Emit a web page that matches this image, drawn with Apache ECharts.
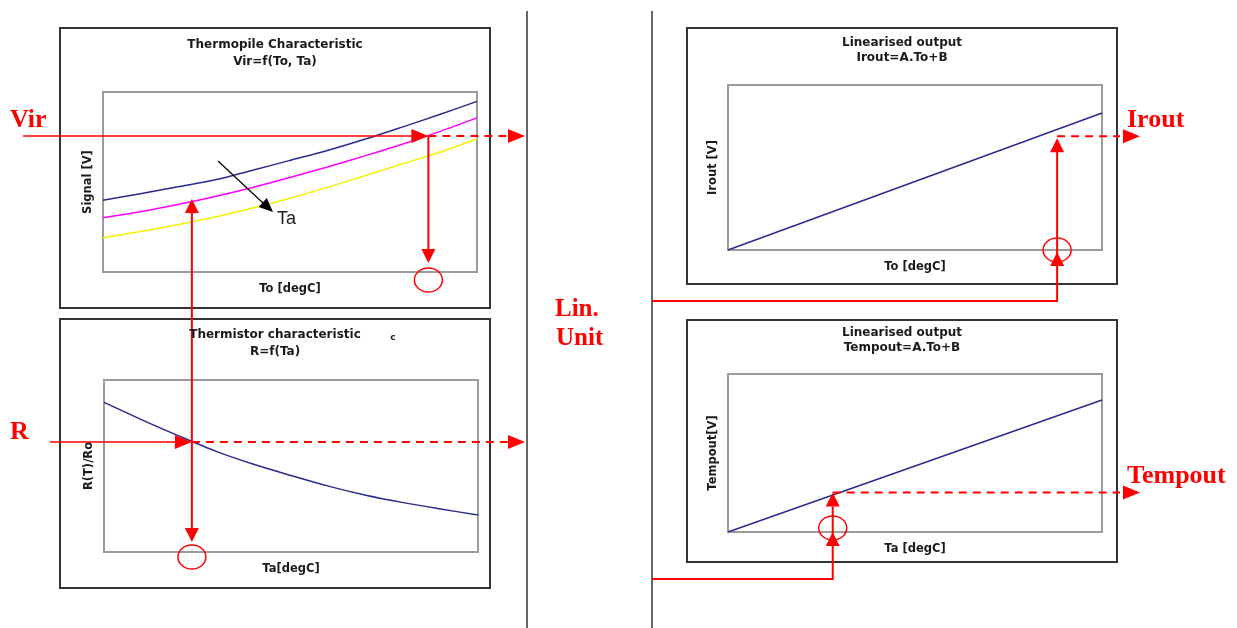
<!DOCTYPE html>
<html><head><meta charset="utf-8">
<script src="https://cdn.jsdelivr.net/npm/echarts@6/dist/echarts.min.js"></script>
<style>html,body{margin:0;padding:0;background:#fff}#c{width:1237px;height:628px}</style>
</head><body><div id="c"></div>
<script>
// ---- data (normalised 0..100 scales) ----
const xSteps = [0,10,20,30,40,50,60,70,80,90,100];
const thermoBlue    = [39.8,43.5,47.3,51.2,56.5,62,67.5,73.7,80.5,87.5,94.8];
const thermoMagenta = [30.2,33.5,37.5,42,47,52.5,58.3,64.5,71,78,85.6];
const thermoYellow  = [19,22.5,26.3,30.5,35.5,41,47,53.5,60,66.5,74];
const thermistorR   = [87,77,67.5,58.5,51,44.5,38.3,33,28.7,25,21.5];
const linEnds = [0,100];
const iroutVals = [0,83];
const tempoutVals = [0,83.5];
// operating points used by the red annotation arrows
const toOp = 87, virOp = 75.6, taOp = 23.5, taSignal = 40.5, rOp = 64;
const iroutTo = 88, iroutLevel = 69, tempTa = 28, tempLevel = 25;

const pair = (xs, ys) => xs.map((x,i)=>[x, ys[i]]);
const chart = echarts.init(document.getElementById('c'));
const grids = [
  {left:103, top:92, width:374, height:180},
  {left:104, top:380, width:374, height:172},
  {left:728, top:85, width:374, height:165},
  {left:728, top:374, width:374, height:158}
].map(g=>Object.assign(g,{show:true,borderColor:'#9b9b9b',borderWidth:2,backgroundColor:'#fff'}));
const axisFont = {fontFamily:'DejaVu Sans', fontWeight:'bold', fontSize:11.5, color:'#1a1a1a'};
const xNames = ['To [degC]','Ta[degC]','To [degC]','Ta [degC]'];
const yNames = ['Signal [V]','R(T)/Ro','Irout [V]','Tempout[V]'];
const xAxis = grids.map((g,i)=>({type:'value',gridIndex:i,min:0,max:100,axisLine:{show:false},axisTick:{show:false},axisLabel:{show:false},splitLine:{show:false},
  name:xNames[i],nameLocation:'middle',nameGap:11,nameTextStyle:axisFont}));
const yAxis = grids.map((g,i)=>({type:'value',gridIndex:i,min:0,max:100,axisLine:{show:false},axisTick:{show:false},axisLabel:{show:false},splitLine:{show:false},
  name:yNames[i],nameLocation:'middle',nameGap:9,nameTextStyle:axisFont}));
const ln = (gi, data, color, smooth) => ({type:'line',xAxisIndex:gi,yAxisIndex:gi,data,showSymbol:false,smooth:smooth?0.3:false,
  lineStyle:{color,width:1.5},silent:true,animation:false,z:3});
chart.setOption({
  animation:false,
  grid:grids, xAxis, yAxis,
  series:[
    ln(0,pair(xSteps,thermoBlue),'#2a2a8e',true),
    ln(0,pair(xSteps,thermoMagenta),'#ff00ff',true),
    ln(0,pair(xSteps,thermoYellow),'#f2f200',true),
    ln(1,pair(xSteps,thermistorR),'#2a2a8e',true),
    ln(2,pair(linEnds,iroutVals),'#2a2a8e',false),
    ln(3,pair(linEnds,tempoutVals),'#2a2a8e',false)
  ]
});

const P = (gi,x,y)=>chart.convertToPixel({gridIndex:gi},[x,y]);
const RED = '#ff0000';
const G = [];
const line = (pts,w,dash,color)=>G.push({type:'polyline',z:20,shape:{points:pts},style:{stroke:color||RED,lineWidth:w,lineDash:dash||null,fill:null}});
const tri = (pts,color)=>G.push({type:'polygon',z:21,shape:{points:pts},style:{fill:color||RED}});
const arrowR = (x,y)=>tri([[x,y],[x-17,y-7],[x-17,y+7]]);
const arrowU = (x,y)=>tri([[x,y],[x-7,y+14],[x+7,y+14]]);
const arrowD = (x,y)=>tri([[x,y],[x-7,y-14],[x+7,y-14]]);
const ell = (cx,cy)=>G.push({type:'ellipse',z:21,shape:{cx,cy,rx:14,ry:12},style:{stroke:RED,lineWidth:1.5,fill:null}});
const txt = (t,x,y,font,fill,align,rot)=>G.push({type:'text',z:22,x,y,rotation:rot||0,style:{text:t,font,fill:fill||'#1a1a1a',textAlign:align||'center',textVerticalAlign:'middle',verticalAlign:'middle'}});

// frames
[[60,28,430,280],[60,319,430,269],[687,28,430,256],[687,320,430,242]].forEach(r=>G.push({type:'rect',z:1,shape:{x:r[0],y:r[1],width:r[2],height:r[3]},style:{stroke:'#333',lineWidth:2,fill:null}}));
line([[527,11],[527,628]],1.5,null,'#333');
line([[652,11],[652,628]],1.5,null,'#333');

// titles
const tf = 'bold 12px "DejaVu Sans"';
txt('Thermopile Characteristic',275,45,tf); txt('Vir=f(To, Ta)',275,62,tf);
txt('Thermistor characteristic',275,335,tf); txt('R=f(Ta)',275,352,tf);
txt('c',393,338,'bold 9px "DejaVu Sans"');
txt('Linearised output',902,43,tf); txt('Irout=A.To+B',902,58,tf);
txt('Linearised output',902,333,tf); txt('Tempout=A.To+B',902,348,tf);

// red labels
const rf = 'bold 26px "Liberation Serif", "Times New Roman", serif';
txt('Vir',10,120,rf,RED,'left'); txt('R',10,432,rf,RED,'left');
txt('Irout',1127,120,rf,RED,'left'); txt('Tempout',1127,476,rf,RED,'left');
const lf = 'bold 25px "Liberation Serif", "Times New Roman", serif';
txt('Lin.',555,310,lf,RED,'left'); txt('Unit',556,339,lf,RED,'left');

// Ta arrow in thermopile chart
line([[218,161],[263,203]],1.2,null,'#000');
tri([[273,212],[258.6,206.9],[266.8,198.1]],'#000');
txt('Ta',277,219,'18px "Liberation Sans", Arial','#222','left');

// thermopile: Vir line -> curve -> down to To circle
const v = P(0,toOp,virOp), vb = P(0,toOp,0);
line([[23,v[1]],[v[0]-16,v[1]]],1.5); arrowR(v[0],v[1]);
line([[v[0],v[1]],[508,v[1]]],2,[8,6]); arrowR(525,v[1]);
line([[v[0],v[1]],[v[0],vb[1]-23]],2); arrowD(v[0],vb[1]-9); ell(v[0],vb[1]+8);
// thermistor: R line -> curve -> Ta circle, vertical up to thermopile magenta curve
const r = P(1,taOp,rOp), rb = P(1,taOp,0), ts = P(0,taOp,taSignal);
line([[50,r[1]],[r[0]-16,r[1]]],1.5); arrowR(r[0],r[1]);
line([[r[0],r[1]],[508,r[1]]],2,[8,6]); arrowR(525,r[1]);
line([[r[0],ts[1]+14],[r[0],rb[1]-24]],2); arrowU(r[0],ts[1]); arrowD(r[0],rb[1]-10); ell(r[0],rb[1]+5);
// Irout path
const ir = P(2,iroutTo,iroutLevel), irb = P(2,iroutTo,0);
line([[652,301],[ir[0],301],[ir[0],ir[1]+14]],2); arrowU(ir[0],ir[1]+2); arrowU(ir[0],irb[1]+2); ell(ir[0],irb[1]);
line([[ir[0],ir[1]],[1120,ir[1]]],2,[8,6]); arrowR(1140,ir[1]);
// Tempout path
const tp = P(3,tempTa,tempLevel), tpb = P(3,tempTa,0);
line([[652,579],[tp[0],579],[tp[0],tp[1]+14]],2); arrowU(tp[0],tp[1]); arrowU(tp[0],tpb[1]); ell(tp[0],tpb[1]-4);
line([[tp[0],tp[1]],[1120,tp[1]]],2,[8,6]); arrowR(1140,tp[1]);

chart.setOption({graphic:{elements:G}});
</script></body></html>
